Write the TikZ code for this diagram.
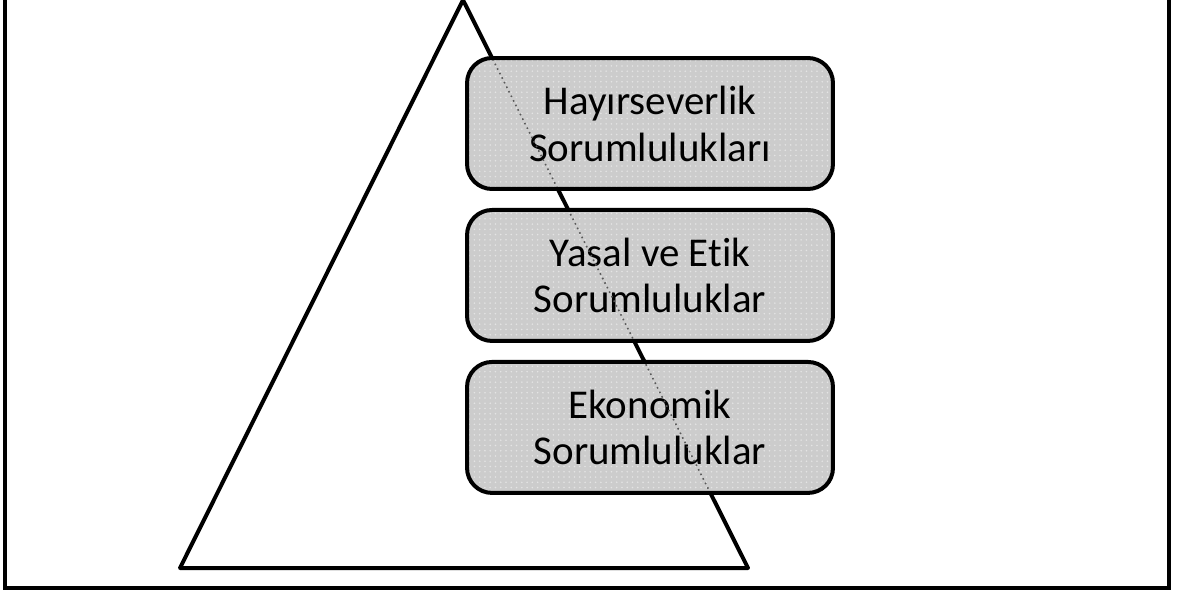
\documentclass[tikz,border=0pt]{standalone}
\usepackage{fontspec}
\setmainfont{Carlito}[Ligatures=NoCommon]
\usepackage{tikz}
\definecolor{boxfill}{RGB}{204, 204, 204}
\definecolor{boxdots}{RGB}{228, 228, 228}
\usetikzlibrary{positioning, patterns}

\begin{document}
\begin{tikzpicture}[
    x=0.02cm, y=0.02cm,
    resp/.style={draw=black, line width=0.08cm, rounded corners=0.5cm,
                 preaction={fill=boxfill}, pattern=dots, pattern color=boxdots,
                 minimum width=7.32cm, minimum height=2.62cm, align=center,
                 font=\fontsize{23.3pt}{26.7pt}\selectfont},
    seen/.style={dotted, line width=0.9pt, black!65}
]
    \useasboundingbox (0,0) rectangle (1182,593);
    % frame, top edge outside the picture
    \draw[line width=0.08cm] (5,640) -- (5,5) -- (1169,5) -- (1169,640);

    \coordinate (apex) at (463,593);
    \coordinate (left) at (180,25);
    \coordinate (right) at (748,25);
    \draw[line width=0.08cm, line join=round] (apex) -- (left) -- (right) -- cycle;

    \node[resp] (hayir) at (650,469.5) {Hayırseverlik\\Sorumlulukları};
    \node[resp, below=0.34cm of hayir] (yasal) {Yasal ve Etik\\Sorumluluklar};
    \node[resp, below=0.34cm of yasal] (ekon) {Ekonomik\\Sorumluluklar};

    \begin{scope}
        \clip ([shift={(4,-4)}]hayir.north west) rectangle ([shift={(-4,4)}]hayir.south east)
              ([shift={(4,-4)}]yasal.north west) rectangle ([shift={(-4,4)}]yasal.south east)
              ([shift={(4,-4)}]ekon.north west) rectangle ([shift={(-4,4)}]ekon.south east);
        \draw[seen] (apex) -- (right);
    \end{scope}
\end{tikzpicture}
\end{document}
